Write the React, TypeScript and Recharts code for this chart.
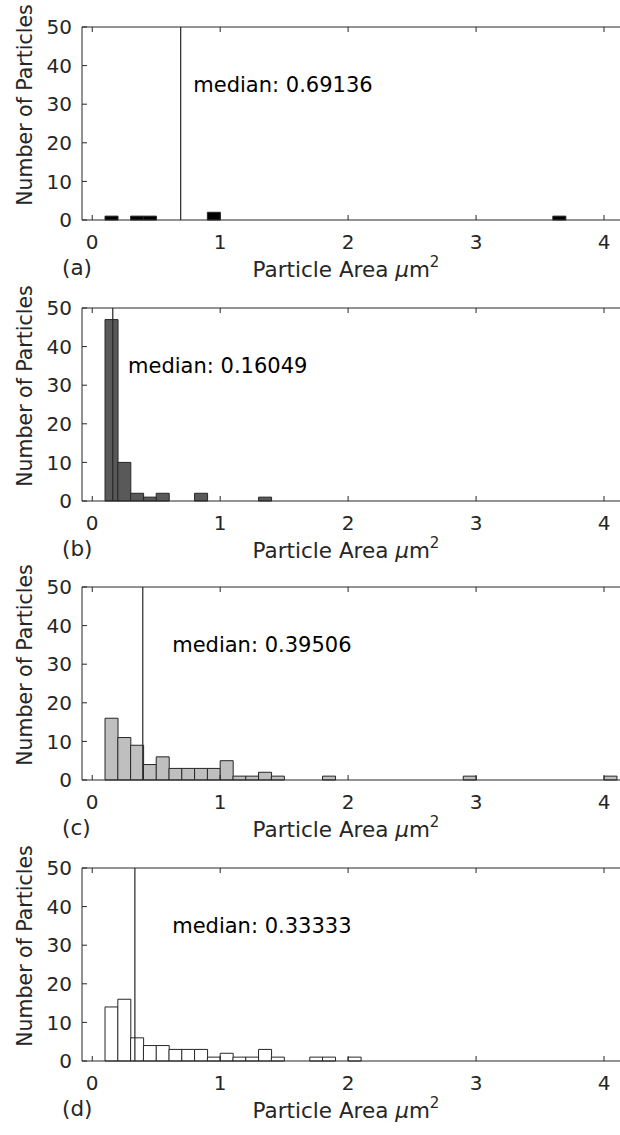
import { ComposedChart, Bar, XAxis, YAxis, ReferenceLine, ReferenceDot } from 'recharts'

// histogram bins are 0.1 wide, first one starts at 0.1
const binCenters = [
  0.15, 0.25, 0.35, 0.45, 0.55, 0.65, 0.75, 0.85, 0.95, 1.05,
  1.15, 1.25, 1.35, 1.45, 1.55, 1.65, 1.75, 1.85, 1.95, 2.05,
  2.15, 2.25, 2.35, 2.45, 2.55, 2.65, 2.75, 2.85, 2.95, 3.05,
  3.15, 3.25, 3.35, 3.45, 3.55, 3.65, 3.75, 3.85, 3.95, 4.05,
  4.15,
]

const countsA = [
  1, 0, 1, 1, 0, 0, 0, 0, 2, 0,
  0, 0, 0, 0, 0, 0, 0, 0, 0, 0,
  0, 0, 0, 0, 0, 0, 0, 0, 0, 0,
  0, 0, 0, 0, 0, 1, 0, 0, 0, 0,
  0,
]
const countsB = [
  47, 10, 2, 1, 2, 0, 0, 2, 0, 0,
  0, 0, 1, 0, 0, 0, 0, 0, 0, 0,
  0, 0, 0, 0, 0, 0, 0, 0, 0, 0,
  0, 0, 0, 0, 0, 0, 0, 0, 0, 0,
  0,
]
const countsC = [
  16, 11, 9, 4, 6, 3, 3, 3, 3, 5,
  1, 1, 2, 1, 0, 0, 0, 1, 0, 0,
  0, 0, 0, 0, 0, 0, 0, 0, 1, 0,
  0, 0, 0, 0, 0, 0, 0, 0, 0, 1,
  0,
]
const countsD = [
  14, 16, 6, 4, 4, 3, 3, 3, 1, 2,
  1, 1, 3, 1, 0, 0, 1, 1, 0, 1,
  0, 0, 0, 0, 0, 0, 0, 0, 0, 0,
  0, 0, 0, 0, 0, 0, 0, 0, 0, 0,
  0,
]

const medians = [0.69136, 0.16049, 0.39506, 0.33333]
const noteXs = [0.79, 0.28, 0.625, 0.625]
const NOTE_Y = 35
const panelTags = ['(a)', '(b)', '(c)', '(d)']

const xTicks = [0, 1, 2, 3, 4]
const yTicks = [0, 10, 20, 30, 40, 50]

const X_DOMAIN: [number, number] = [-0.08, 4.25]
const AXIS = '#262626'
const FONT = 'DejaVu Sans, sans-serif'
const PAD_TOP = 30

const panels = [
  { counts: countsA, fill: '#000000', top: 27 },
  { counts: countsB, fill: '#595959', top: 308 },
  { counts: countsC, fill: '#bfbfbf', top: 587 },
  { counts: countsD, fill: '#ffffff', top: 868 },
]

interface HistProps {
  counts: number[]
  fill: string
  top: number
  median: number
  noteX: number
  tag: string
}

function Histogram({ counts, fill, top, median, noteX, tag }: HistProps) {
  const data = binCenters.map((x, i) => ({ x, n: counts[i] }))

  return (
    <div style={{ position: 'absolute', left: 0, top: top - PAD_TOP }}>
      <ComposedChart
        width={640}
        height={193 + PAD_TOP + 72}
        data={data}
        margin={{ top: PAD_TOP - 1, right: 4, bottom: 0, left: 0 }}
        barCategoryGap={0}
        barGap={0}
      >
        {/* top edge of the box, ticks only */}
        <XAxis
          xAxisId="top"
          orientation="top"
          type="number"
          dataKey="x"
          domain={X_DOMAIN}
          ticks={xTicks}
          allowDataOverflow
          height={1}
          tick={() => <g />}
          tickSize={-5}
          stroke={AXIS}
        />
        <XAxis
          type="number"
          dataKey="x"
          domain={X_DOMAIN}
          ticks={xTicks}
          allowDataOverflow
          height={72}
          tickSize={-5}
          tickMargin={20}
          stroke={AXIS}
          tick={{ fontSize: 20, fill: AXIS }}
          label={(props: any) => {
            const vb = props.viewBox || { x: 82, y: 193 + PAD_TOP }
            const base = vb.y
            return (
              <g fill={AXIS} fontSize={21.5}>
                <text x={62} y={base + 55}>{tag}</text>
                <text x={346} y={base + 57} textAnchor="middle">
                  Particle Area <tspan fontStyle="italic">μ</tspan>m
                  <tspan dy={-10} fontSize={15}>2</tspan>
                </text>
              </g>
            )
          }}
        />
        <YAxis
          type="number"
          domain={[0, 50]}
          ticks={yTicks}
          width={82}
          tickSize={-5}
          tickMargin={15}
          stroke={AXIS}
          tick={{ fontSize: 20, fill: AXIS }}
          label={(props: any) => {
            const vb = props.viewBox || { x: 0, y: PAD_TOP }
            const cy = vb.y + 78
            return (
              <text
                x={32}
                y={cy}
                fill={AXIS}
                fontSize={20.5}
                textAnchor="middle"
                transform={`rotate(-90, 32, ${cy})`}
              >
                Number of Particles
              </text>
            )
          }}
        />
        <Bar dataKey="n" fill={fill} stroke={AXIS} strokeWidth={1} isAnimationActive={false} />
        <ReferenceLine x={median} stroke={AXIS} strokeWidth={1.2} />
        <ReferenceDot
          x={noteX}
          y={NOTE_Y}
          r={0}
          shape={(p: any) => (
            <text x={p.cx} y={p.cy + 7} fontSize={21} fill="#000">
              median: {median.toFixed(5)}
            </text>
          )}
        />
      </ComposedChart>
    </div>
  )
}

export default function App() {
  return (
    <div
      style={{
        position: 'relative',
        width: 620,
        height: 1135,
        overflow: 'hidden',
        background: '#fff',
        fontFamily: FONT,
      }}
    >
      <style>{'body{margin:0;overflow:hidden}'}</style>
      {panels.map((p, i) => (
        <Histogram
          key={panelTags[i]}
          counts={p.counts}
          fill={p.fill}
          top={p.top}
          median={medians[i]}
          noteX={noteXs[i]}
          tag={panelTags[i]}
        />
      ))}
    </div>
  )
}
